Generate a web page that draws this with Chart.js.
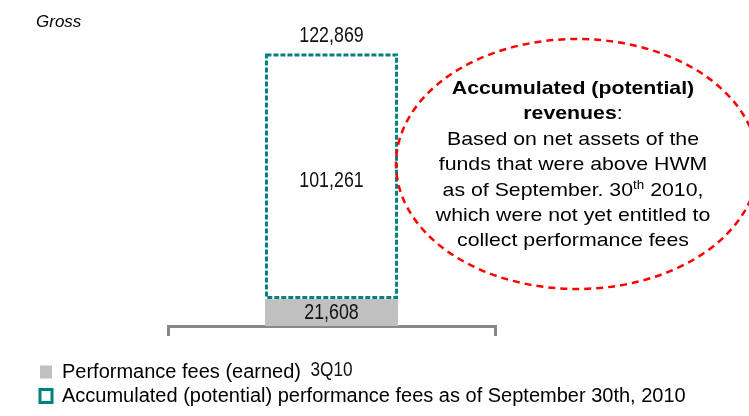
<!DOCTYPE html>
<html>
<head>
<meta charset="utf-8">
<script src="https://cdn.jsdelivr.net/npm/chart.js@4.4.0/dist/chart.umd.min.js"></script>
<style>
    html, body { margin: 0; padding: 0; background: #ffffff; }
    #wrap { position: relative; width: 749px; height: 416px; }
</style>
</head>
<body>
<div id="wrap"><canvas id="fees-chart"></canvas></div>
<script>
const categories = ["3Q10"];
const earnedFees = [21608];
const potentialFees = [101261];
const seriesNames = [
    "Performance fees (earned)",
    "Accumulated (potential) performance fees as of September 30th, 2010",
];

const SANS = "'Liberation Sans', Arial, sans-serif";
const GREY = "#c0c0c0";
const TEAL = "#008080";
const AXIS = "#888888";

// text inside the red bubble, split into runs: b = bold, sup = superscript
const noteLines = [
    [["Accumulated (potential)", "b"]],
    [["revenues", "b"], [":", ""]],
    [["Based on net assets of the", ""]],
    [["funds that were above HWM", ""]],
    [["as of September. 30", ""], ["th", "sup"], [" 2010,", ""]],
    [["which were not yet entitled to", ""]],
    [["collect performance fees", ""]],
];

function fmt(v) {
    return v.toLocaleString("en-US");
}

// no narrow font installed, so squeeze the text horizontally
function narrowText(ctx, text, x, y, sx) {
    ctx.save();
    ctx.translate(x, y);
    ctx.scale(sx, 1);
    ctx.fillText(text, 0, 0);
    ctx.restore();
}

const barLabels = {
    id: "barLabels",
    afterDatasetsDraw(chart) {
        const ctx = chart.ctx;
        const area = chart.chartArea;
        const earned = chart.getDatasetMeta(0).data;
        const potential = chart.getDatasetMeta(1).data;
        ctx.save();
        // dashed outline for the potential part
        ctx.strokeStyle = TEAL;
        ctx.lineWidth = 3;
        ctx.setLineDash([5, 2]);
        potential.forEach((bar) => {
            const left = bar.x - bar.width / 2;
            ctx.strokeRect(left + 1.5, bar.y + 1.5, bar.width - 3, bar.base - bar.y - 3);
        });
        ctx.setLineDash([]);

        ctx.fillStyle = "#111111";
        ctx.textAlign = "center";
        ctx.textBaseline = "middle";
        ctx.font = "22px " + SANS;
        earned.forEach((bar, i) => {
            const bottom = Math.min(bar.base, area.bottom);
            narrowText(ctx, fmt(earnedFees[i]), bar.x, (bar.y + bottom) / 2, 0.81);
        });
        potential.forEach((bar, i) => {
            narrowText(ctx, fmt(potentialFees[i]), bar.x, (bar.y + bar.base) / 2 + 5, 0.81);
            narrowText(ctx, fmt(earnedFees[i] + potentialFees[i]), bar.x, bar.y - 17, 0.81);
        });

        const xs = chart.scales.x;
        ctx.font = "21px " + SANS;
        categories.forEach((c, i) => {
            narrowText(ctx, c, xs.getPixelForTick(i), area.bottom + 44, 0.82);
        });
        ctx.restore();
    },
};

const noteBubble = {
    id: "noteBubble",
    afterDraw(chart) {
        const ctx = chart.ctx;
        const sx = 1.12;
        ctx.save();
        ctx.beginPath();
        ctx.ellipse(577, 164, 181, 125, 0, 0, Math.PI * 2);
        ctx.strokeStyle = "#ff0000";
        ctx.lineWidth = 2.5;
        ctx.setLineDash([7, 5]);
        ctx.stroke();
        ctx.setLineDash([]);

        ctx.fillStyle = "#000000";
        ctx.textAlign = "left";
        ctx.textBaseline = "alphabetic";
        const fontFor = (kind) => {
            if (kind === "b") return "bold 19px " + SANS;
            if (kind === "sup") return "12px " + SANS;
            return "19px " + SANS;
        };
        noteLines.forEach((runs, i) => {
            const base = 87 + i * 25.4 + 7;
            let total = 0;
            runs.forEach(([t, kind]) => {
                ctx.font = fontFor(kind);
                total += ctx.measureText(t).width;
            });
            ctx.save();
            ctx.translate(573 - (total * sx) / 2, base);
            ctx.scale(sx, 1);
            let x = 0;
            runs.forEach(([t, kind]) => {
                ctx.font = fontFor(kind);
                ctx.fillText(t, x, kind === "sup" ? -7 : 0);
                x += ctx.measureText(t).width;
            });
            ctx.restore();
        });
        ctx.restore();
    },
};

new Chart(document.getElementById("fees-chart"), {
    type: "bar",
    data: {
        labels: categories,
        datasets: [
            {
                label: seriesNames[0],
                data: earnedFees,
                backgroundColor: GREY,
                borderWidth: 0,
                categoryPercentage: 1,
                barPercentage: 0.407,
                clip: 0,
            },
            {
                label: seriesNames[1],
                data: potentialFees,
                backgroundColor: "rgba(255,255,255,0)",
                borderWidth: 0,
                categoryPercentage: 1,
                barPercentage: 0.407,
                clip: 0,
            },
        ],
    },
    options: {
        responsive: true,
        maintainAspectRatio: false,
        animation: false,
        layout: { padding: { left: 36, right: 0, top: 0, bottom: 0 } },
        scales: {
            x: {
                stacked: true,
                grid: {
                    display: true,
                    drawOnChartArea: false,
                    offset: true,
                    color: AXIS,
                    lineWidth: 3,
                    tickLength: 10,
                },
                border: { display: true, color: AXIS, width: 3 },
                ticks: { display: false },
                afterFit(scale) {
                    scale.height = 32;
                },
            },
            y: {
                stacked: true,
                min: 10500,
                max: 122869,
                grid: { display: false },
                border: { display: false },
                ticks: { display: false },
                afterFit(scale) {
                    scale.width = 132;
                },
            },
            y2: {
                type: "linear",
                position: "right",
                grid: { display: false },
                border: { display: false },
                ticks: { display: false },
                afterFit(scale) {
                    scale.width = 254;
                },
            },
        },
        plugins: {
            title: {
                display: true,
                text: "Gross",
                align: "start",
                color: "#000000",
                font: { family: SANS, size: 17, style: "italic", weight: "normal" },
                padding: { top: 12, bottom: 21 },
            },
            legend: {
                position: "bottom",
                align: "start",
                labels: {
                    color: "#000000",
                    font: { family: SANS, size: 20 },
                    boxWidth: 12,
                    boxHeight: 13,
                    padding: 4,
                    generateLabels(chart) {
                        const items = Chart.defaults.plugins.legend.labels.generateLabels(chart);
                        items[0].fillStyle = GREY;
                        items[0].strokeStyle = GREY;
                        items[0].lineWidth = 0;
                        items[1].fillStyle = "#ffffff";
                        items[1].strokeStyle = TEAL;
                        items[1].lineWidth = 3;
                        return items;
                    },
                },
            },
            tooltip: { enabled: false },
        },
    },
    plugins: [barLabels, noteBubble],
});
</script>
</body>
</html>
